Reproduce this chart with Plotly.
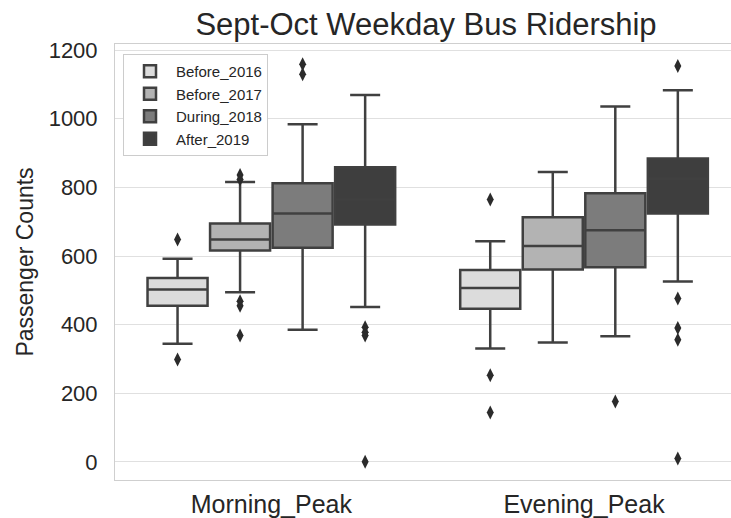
import plotly.graph_objects as go

# ── data ────────────────────────────────────────────────────
periods = ["Morning_Peak", "Evening_Peak"]
groups = ["Before_2016", "Before_2017", "During_2018", "After_2019"]
colors = ["#dcdcdc", "#b3b3b3", "#7c7c7c", "#3e3e3e"]

q1 = {
    "Before_2016": [455, 446],
    "Before_2017": [616, 561],
    "During_2018": [624, 567],
    "After_2019": [692, 724],
}
median = {
    "Before_2016": [502, 507],
    "Before_2017": [648, 629],
    "During_2018": [724, 675],
    "After_2019": [765, 825],
}
q3 = {
    "Before_2016": [536, 559],
    "Before_2017": [695, 713],
    "During_2018": [812, 783],
    "After_2019": [859, 884],
}
lower_whisker = {
    "Before_2016": [344, 330],
    "Before_2017": [494, 348],
    "During_2018": [385, 366],
    "After_2019": [451, 526],
}
upper_whisker = {
    "Before_2016": [592, 643],
    "Before_2017": [816, 845],
    "During_2018": [984, 1036],
    "After_2019": [1069, 1083],
}

# outliers: (period, value)
outlier_period = {
    "Before_2016": ["Morning_Peak", "Morning_Peak",
                    "Evening_Peak", "Evening_Peak", "Evening_Peak"],
    "Before_2017": ["Morning_Peak", "Morning_Peak", "Morning_Peak",
                    "Morning_Peak", "Morning_Peak"],
    "During_2018": ["Morning_Peak", "Morning_Peak", "Evening_Peak"],
    "After_2019": ["Morning_Peak", "Morning_Peak", "Morning_Peak",
                   "Morning_Peak", "Evening_Peak", "Evening_Peak",
                   "Evening_Peak", "Evening_Peak", "Evening_Peak"],
}
outlier_value = {
    "Before_2016": [648, 298, 765, 252, 144],
    "Before_2017": [836, 823, 468, 455, 368],
    "During_2018": [1159, 1130, 176],
    "After_2019": [392, 378, 368, 0, 1154, 476, 390, 356, 10],
}

line_col = "#404040"

fig = go.Figure()

for i, g in enumerate(groups):
    fig.add_trace(go.Box(
        name=g,
        x=periods,
        q1=q1[g],
        median=median[g],
        q3=q3[g],
        lowerfence=lower_whisker[g],
        upperfence=upper_whisker[g],
        fillcolor=colors[i],
        line=dict(color=line_col, width=2.5),
        whiskerwidth=0.5,
        offsetgroup=g,
        boxpoints=False,
    ))

for i, g in enumerate(groups):
    fig.add_trace(go.Scatter(
        x=outlier_period[g],
        y=outlier_value[g],
        mode="markers",
        marker=dict(symbol="diamond-tall", size=10, color="#2b2b2b"),
        offsetgroup=g,
        showlegend=False,
        hoverinfo="skip",
    ))

fig.update_layout(
    width=731,
    height=518,
    margin=dict(l=115, r=0, t=44, b=38, autoexpand=False),
    paper_bgcolor="white",
    plot_bgcolor="white",
    font=dict(family="Liberation Sans, Arial, sans-serif", color="#262626"),
    boxmode="group",
    boxgap=0.2,
    boxgroupgap=0.04,
    scattermode="group",
    scattergap=0.2,
    title=dict(
        text="Sept-Oct Weekday Bus Ridership",
        font=dict(size=31, color="#262626"),
        x=426 / 731, xref="container", xanchor="center",
        y=1 - 24 / 518, yref="container", yanchor="middle",
    ),
    legend=dict(
        x=0.013, y=0.977, xanchor="left", yanchor="top",
        bgcolor="white", bordercolor="#cccccc", borderwidth=1,
        font=dict(size=15, color="#262626"),
        itemwidth=42,
    ),
    showlegend=True,
)

fig.update_xaxes(
    type="category",
    categoryorder="array",
    categoryarray=periods,
    range=[-0.5, 1.47],
    showgrid=False,
    automargin=False,
    showline=True, linecolor="#cfcfcf", linewidth=1, mirror=True,
    tickfont=dict(size=25, color="#262626"),
    ticklabelstandoff=2,
)
fig.update_yaxes(
    range=[-53, 1218],
    dtick=200,
    automargin=False,
    showgrid=True, gridcolor="#e0e0e0", gridwidth=1,
    zeroline=False,
    showline=True, linecolor="#cfcfcf", linewidth=1, mirror=True,
    tickfont=dict(size=22, color="#262626"),
    ticklabelstandoff=12,
    title=dict(text="Passenger Counts", font=dict(size=23, color="#262626"),
               standoff=8),
)

# page body has a default 8px margin; drop it so the figure fills the window
fig.write_html(
    "out.html",
    config={"displayModeBar": False},
    post_script="document.body.style.margin='0';"
                "document.body.style.overflow='hidden';",
)
